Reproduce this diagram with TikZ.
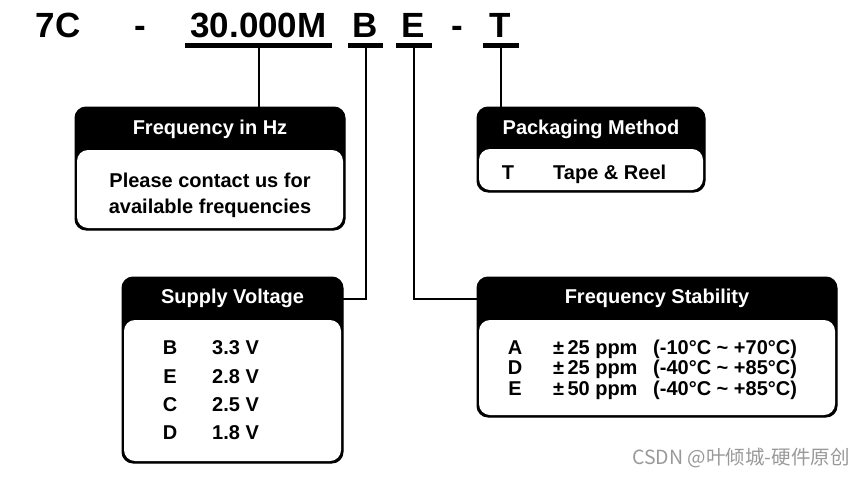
\documentclass[tikz,border=0pt]{standalone}
\usepackage{fontspec}
\setmainfont{Liberation Sans}
\newfontfamily\cjkfont{Noto Sans CJK SC}
\definecolor{wm}{HTML}{999999}
\begin{document}
\begin{tikzpicture}[x=1pt,y=-1pt,
  code/.style={font=\fontsize{35}{40}\selectfont\bfseries, anchor=base, inner sep=0pt},
  uline/.style={fill=black, inner sep=0pt, minimum height=5pt},
  conn/.style={line width=2pt},
  boxouter/.style={fill=black, draw=black, line width=1pt, rounded corners=11pt, inner sep=0pt},
  boxbody/.style={fill=white, rounded corners=11pt, inner sep=0pt},
  hdr/.style={font=\fontsize{20}{24}\selectfont\bfseries, text=white, inner sep=0pt},
  txt/.style={font=\fontsize{20}{24}\selectfont\bfseries, inner sep=0pt, anchor=base},
  txtw/.style={font=\fontsize{20}{24}\selectfont\bfseries, inner sep=0pt, anchor=base west}
]
\useasboundingbox (0,0) rectangle (865,477);

% ---- part number ----
\node[code] (c7) at (58,37) {7C};
\node[code] (d1) at (140,37) {-};
\node[code] (cf) at (258.5,37) {30.000M};
\node[code] (cb) at (365.5,37) {B};
\node[code] (ce) at (413,37) {E};
\node[code] (d2) at (457,37) {-};
\node[code] (ct) at (500,37) {T};

\node[uline, minimum width=147pt] (uF) at (258.5,45.5) {};
\node[uline, minimum width=35pt] (uB) at (365.5,45.5) {};
\node[uline, minimum width=36pt] (uE) at (414,45.5) {};
\node[uline, minimum width=36pt] (uT) at (501,45.5) {};

% ---- Frequency in Hz ----
\node[boxouter, minimum width=270pt, minimum height=123pt] (fb) at (210,168.5) {};
\node[hdr, minimum width=270pt, minimum height=43pt] (fbh) at (210,129) {Frequency in Hz};
\node[boxbody, minimum width=266pt, minimum height=78pt] (fbb) at (210,189) {};
\node[txt] (fb1) at (210,187) {Please contact us for};
\node[txt] (fb2) at (210,213) {available frequencies};

% ---- Packaging Method ----
\node[boxouter, minimum width=228pt, minimum height=85pt] (pm) at (591,149.5) {};
\node[hdr, minimum width=228pt, minimum height=42pt] (pmh) at (591,129) {Packaging Method};
\node[boxbody, minimum width=224pt, minimum height=41pt] (pmb) at (591,169.5) {};
\node[txt] (pm1) at (508,179) {T};
\node[txtw] (pm2) at (553,179) {Tape \& Reel};

% ---- Supply Voltage ----
\node[boxouter, minimum width=221pt, minimum height=186pt] (sv) at (232.5,370) {};
\node[hdr, minimum width=221pt, minimum height=43pt] (svh) at (232.5,298.5) {Supply Voltage};
\node[boxbody, minimum width=217pt, minimum height=141pt] (svb) at (232.5,390.5) {};
\node[txt] (svl1) at (170,354) {B};
\node[txtw] (svv1) at (212,354) {3.3 V};
\node[txt] (svl2) at (170,383) {E};
\node[txtw] (svv2) at (212,383) {2.8 V};
\node[txt] (svl3) at (170,411) {C};
\node[txtw] (svv3) at (212,411) {2.5 V};
\node[txt] (svl4) at (170,439) {D};
\node[txtw] (svv4) at (212,439) {1.8 V};

% ---- Frequency Stability ----
\node[boxouter, minimum width=360pt, minimum height=140pt] (fs) at (657,347) {};
\node[hdr, minimum width=360pt, minimum height=43pt] (fsh) at (657,298.5) {Frequency Stability};
\node[boxbody, minimum width=356pt, minimum height=95pt] (fsb) at (657,367.5) {};
\node[txt] (fsl1) at (515,354) {A};
\node[txtw] (fsp1) at (553,354) {±\,25 ppm};
\node[txtw] (fst1) at (653,354) {(-10°C \char`~{} +70°C)};
\node[txt] (fsl2) at (515,374.5) {D};
\node[txtw] (fsp2) at (553,374.5) {±\,25 ppm};
\node[txtw] (fst2) at (653,374.5) {(-40°C \char`~{} +85°C)};
\node[txt] (fsl3) at (515,395) {E};
\node[txtw] (fsp3) at (553,395) {±\,50 ppm};
\node[txtw] (fst3) at (653,395) {(-40°C \char`~{} +85°C)};

% ---- connectors ----
\draw[conn] (uF.south) -- (uF.south |- fb.north);
\draw[conn] (uT.south) -- (uT.south |- pm.north);
\draw[conn] (uB.south) |- (svh.east);
\draw[conn] (uE.south) |- (fsh.west);

% ---- watermark ----
\node[font=\cjkfont\fontsize{19.5}{22}\selectfont, text=wm, inner sep=0pt] (wmk) at (741,458) {CSDN @叶倾城-硬件原创};
\end{tikzpicture}
\end{document}
